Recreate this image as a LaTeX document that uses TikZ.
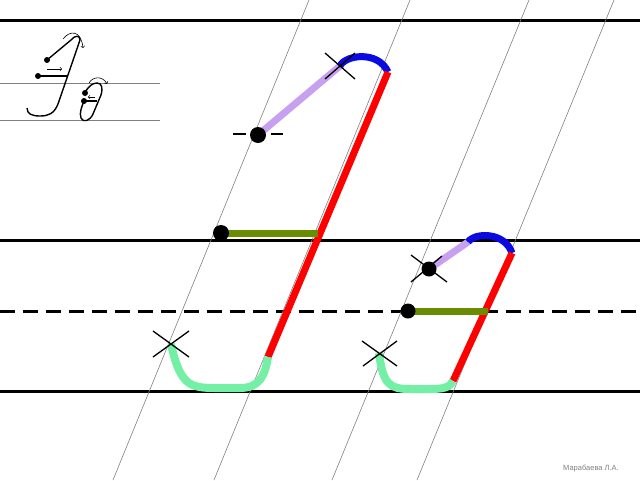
\documentclass[tikz,border=0pt]{standalone}
\usepackage{fontspec}
\newfontfamily\authorfont{Liberation Sans}
\definecolor{penred}{RGB}{255,0,0}
\definecolor{penblue}{RGB}{10,10,225}
\definecolor{lilac}{RGB}{200,160,240}
\definecolor{barolive}{RGB}{105,140,0}
\definecolor{mint}{RGB}{115,240,165}

\begin{document}
\begin{tikzpicture}[x=1pt,y=-1pt,
    rule/.style={line width=3pt},
    slant/.style={gray,line width=0.6pt},
    pen/.style={line width=7pt},
    crossline/.style={line width=1.3pt},
    dot/.style={fill=black,circle,inner sep=0pt,minimum size=16pt},
    smalldot/.style={fill=black,circle,inner sep=0pt,minimum size=6pt},
    sample/.style={line width=1.4pt}]
            \useasboundingbox (0,0) rectangle (640,480);

            % Ruling
            \draw[rule] (0,20) -- (640,20);
            \draw[rule] (0,240) -- (640,240);
            \draw[rule,dash pattern=on 15pt off 8pt] (0,311) -- (640,311);
            \draw[rule] (0,391) -- (640,391);
            \foreach \t/\b in {309/113,410/214,529/332,614/417}
                \draw[slant] (\t,0) -- (\b,480);
            \draw[gray,line width=0.8pt] (0,83) -- (160,83);
            \draw[gray,line width=0.8pt] (0,120) -- (160,120);

            % Sample letters
            \node[smalldot] (s1) at (47,60) {};
            \node[smalldot] (s2) at (38,76) {};
            \node[smalldot] (s3) at (85,93) {};
            \node[smalldot] (s4) at (84,101) {};
            \draw[sample] (s1.center) -- (71,40) .. controls (75,35) and (80,35) .. (80,40)
                -- (58,104) .. controls (54,114) and (48,116) .. (40,116)
                .. controls (32,116) and (27,114) .. (27,108);
            \draw[sample] (s2.center) -- (67,76);
            \draw[->,line width=0.6pt] (63,39) .. controls (70,30) and (81,30) .. (83,48);
            \draw[->,line width=0.6pt] (47,69) -- (62,69);
            \draw[sample] (s3.center) .. controls (88,86) and (93,83) .. (97,83)
                .. controls (102,83) and (103,88) .. (101,95) -- (93,114)
                .. controls (90,121) and (83,123) .. (81,118)
                .. controls (79,113) and (82,106) .. (84,101);
            \draw[sample] (s4.center) -- (97,101);
            \draw[->,line width=0.6pt] (89,83) .. controls (93,76) and (103,76) .. (107,84);
            \draw[->,line width=0.6pt] (95,97) -- (88,97);

            % Big letter
            \coordinate (bt) at (340,66);
            \coordinate (br) at (388,72);
            \coordinate (bb) at (268,357);
            \coordinate (bh) at (171,344);
            \coordinate (bdot1) at (258,135);
            \coordinate (bdot2) at (221,233);
            \coordinate (bbar) at (318,233);
            \draw[pen,lilac] (bdot1) -- (bt);
            \draw[pen,penblue] (bt) .. controls (345,55) and (378,50) .. (br);
            \draw[pen,penred] (br) -- (bb);
            \draw[pen,barolive] (bdot2) -- (bbar);
            \draw[pen,mint,line width=8pt] (bh) .. controls (180,385) and (190,388) .. (215,388)
                -- (240,388) .. controls (260,388) and (265,375) .. (bb);
            \node[dot] (d1) at (bdot1) {};
            \node[dot] (d2) at (bdot2) {};
            \draw[line width=2.5pt] (233,134) -- (246,134);
            \draw[line width=2.5pt] (271,134) -- (283,134);
            \draw[crossline] ([shift={(-15,-13)}]bt) -- ([shift={(15,13)}]bt);
            \draw[crossline] ([shift={(15,-13)}]bt) -- ([shift={(-15,13)}]bt);
            \draw[crossline] ([shift={(-18,-13)}]bh) -- ([shift={(18,13)}]bh);
            \draw[crossline] ([shift={(18,-13)}]bh) -- ([shift={(-18,13)}]bh);

            % Small letter
            \coordinate (st) at (468,242);
            \coordinate (sr) at (512,253);
            \coordinate (sb) at (453,381);
            \coordinate (sh) at (379,353);
            \coordinate (sdot1) at (429,269);
            \coordinate (sdot2) at (408,311);
            \coordinate (sbar) at (488,311);
            \draw[pen,lilac] (sdot1) -- (st);
            \draw[pen,penblue] (st) .. controls (475,232) and (505,232) .. (sr);
            \draw[pen,penred] (sr) -- (sb);
            \draw[pen,barolive] (sdot2) -- (sbar);
            \draw[pen,mint,line width=8pt] (sh) .. controls (383,385) and (390,389) .. (410,389)
                -- (430,389) .. controls (445,389) and (450,387) .. (sb);
            \node[dot,minimum size=15pt] (d3) at (sdot1) {};
            \node[dot,minimum size=15pt] (d4) at (sdot2) {};
            \draw[crossline] ([shift={(-18,-14)}]sdot1) -- ([shift={(18,13)}]sdot1);
            \draw[crossline] ([shift={(13,-13)}]sdot1) -- ([shift={(-18,13)}]sdot1);
            \draw[crossline] ([shift={(-17,-12)}]sh) -- ([shift={(18,13)}]sh);
            \draw[crossline] ([shift={(18,-12)}]sh) -- ([shift={(-16,13)}]sh);

            % Author
            \node[gray,font=\authorfont\fontsize{7.5}{8}\selectfont,inner sep=0pt] (author) at (591,469) {Марабаева Л.А.};
\end{tikzpicture}
\end{document}
